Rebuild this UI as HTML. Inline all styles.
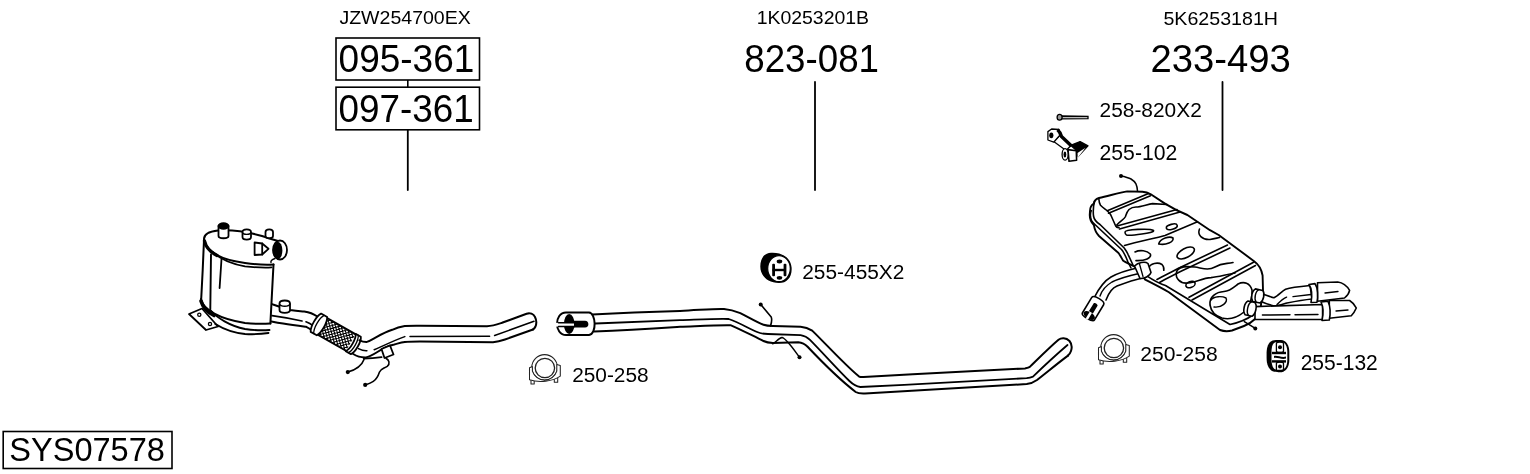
<!DOCTYPE html>
<html><head><meta charset="utf-8">
<style>
html,body{margin:0;padding:0;background:#fff;}
body{width:1530px;height:474px;overflow:hidden;position:relative;}
svg{position:absolute;left:0;top:0;will-change:transform;}
text{font-family:"Liberation Sans",sans-serif;fill:#000;}
</style></head><body>
<svg width="1530" height="474" viewBox="0 0 1530 474">
<g id="texts">
<text transform="translate(339.41 24.31) scale(1.0282 1)" font-size="19.01">JZW254700EX</text>
<text transform="translate(756.64 24.32) scale(1.0633 1)" font-size="18.31">1K0253201B</text>
<text transform="translate(1163.41 24.52) scale(1.0815 1)" font-size="18.17">5K6253181H</text>
<text transform="translate(338.62 72.01) scale(0.9548 1)" font-size="38.73">095-361</text>
<text transform="translate(338.53 121.71) scale(0.9554 1)" font-size="38.59">097-361</text>
<text transform="translate(744.23 72.21) scale(0.9518 1)" font-size="38.59">823-081</text>
<text transform="translate(1150.39 72.11) scale(0.9916 1)" font-size="38.59">233-493</text>
<text transform="translate(1099.56 116.89) scale(0.9892 1)" font-size="21.13">258-820X2</text>
<text transform="translate(1099.54 159.68) scale(0.9713 1)" font-size="21.83">255-102</text>
<text transform="translate(802.26 279.29) scale(1.0015 1)" font-size="20.85">255-455X2</text>
<text transform="translate(572.16 382.19) scale(0.9997 1)" font-size="20.85">250-258</text>
<text transform="translate(1140.34 360.99) scale(1.0200 1)" font-size="20.70">250-258</text>
<text transform="translate(1300.65 370.48) scale(0.9513 1)" font-size="22.11">255-132</text>
<text transform="translate(9.27 461.37) scale(0.9879 1)" font-size="32.96">SYS07578</text>
</g>
<g fill="none" stroke="#000" stroke-width="1.6">
<rect x="336" y="38" width="143.5" height="42"/>
<rect x="336" y="87.2" width="143.5" height="42.6"/>
<rect x="3.2" y="431.5" width="168.8" height="37"/>
<line x1="407.8" y1="80" x2="407.8" y2="87.2"/>
<line x1="407.8" y1="129.8" x2="407.8" y2="190" stroke-width="1.8" stroke-linecap="round"/>
<line x1="815" y1="82" x2="815" y2="190" stroke-width="1.8" stroke-linecap="round"/>
<line x1="1222.5" y1="82" x2="1222.5" y2="190" stroke-width="1.8" stroke-linecap="round"/>
</g>
<!--DPF-->
<g id="dpf" fill="none" stroke="#000" stroke-width="1.8" stroke-linecap="round" stroke-linejoin="round">
<defs>
<pattern id="mesh" width="3.7" height="3.7" patternUnits="userSpaceOnUse" patternTransform="rotate(45)">
<rect width="3.7" height="3.7" fill="#fff"/>
<rect width="1.15" height="3.7" fill="#000"/>
<rect width="3.7" height="1.15" fill="#000"/>
</pattern>
</defs>
<path d="M189,314 L202,308.5 L218,326.5 L206,330 Z" fill="#fff"/>
<circle cx="199.3" cy="314.7" r="1.6" stroke-width="1.3"/>
<circle cx="210" cy="324" r="1.6" stroke-width="1.3"/>
<path d="M204,239 C204,234 209,231.5 218,230.5 C232,229.5 248,232 262,236 C268,238 274,240 278,241" stroke-width="2"/>
<path d="M204,240 C207,252 222,260 245,263 C256,264.5 266,265 273.5,264.5" stroke-width="2"/>
<path d="M204.5,241 C206,248 210,252 217,255.5" stroke-width="3.4"/>
<path d="M212.5,251.8 C220,259 232,264 245,266.4 C256,267.5 265,267.8 271.5,267.4" stroke-width="1.8"/>
<path d="M204,240 L202.7,270 L201.2,299" stroke-width="2"/>
<path d="M211,254.5 L210.3,309" stroke-width="1.9"/>
<path d="M221.5,259 L219.6,288" stroke-width="1.8"/>
<path d="M273.5,264.5 L270.4,323.4" stroke-width="2"/>
<path d="M201,299 C203,310 220,319 245,323 C255,324 264,324 270.4,323.4" stroke-width="2"/>
<path d="M201,301 C203,308 207,312 214,315.5" stroke-width="3.6"/>
<path d="M210.3,310 C217,318 230,326 245,329 C255,330.5 263,330.5 269.5,330" stroke-width="1.9"/>
<path d="M215.3,324 C225,330 235,333 245,334 C255,334.5 262,334 268.5,333" stroke-width="1.9"/>
<path d="M218.5,226 L218.5,236 C218.5,239 228.5,239 228.5,236 L228.5,226" fill="#fff"/>
<ellipse cx="223.5" cy="226" rx="5" ry="2.8" fill="#000"/>
<path d="M242.5,232 L242.5,237 C242.5,240.5 251,240.5 251,237 L251,232 C251,228.5 242.5,228.5 242.5,232 Z" fill="#fff"/>
<path d="M242.5,232.5 C243,235 250.5,235 251,232.5" stroke-width="1.3"/>
<path d="M265.5,232 L265.5,236 C265.5,239 273,239 273,236 L273,232 C273,228.5 265.5,228.5 265.5,232 Z" fill="#fff"/>
<path d="M254.6,242.5 L262.2,243.5 L262.2,254.5 L254.6,255 Z"/>
<path d="M262.2,243.5 L268.5,248.8 L262.2,254.5"/>
<ellipse cx="280" cy="250" rx="7" ry="9.5" fill="#fff"/>
<ellipse cx="277.8" cy="250.5" rx="4.6" ry="8.8" fill="#000" stroke="none"/>
<path d="M275,258.5 C272,259.5 270.5,261 271,262.5" stroke-width="1.4"/>
<path d="M272,304.1 C276,305.5 280,307 290,310 C296,311 300,311.2 304.2,311.5 C309,312.3 313,313.5 316.5,316 C317.5,317 318.5,318 319,319" stroke-width="2"/>
<path d="M271.4,321.5 C276,322.5 280,323.2 283.1,323.6 C292,325 300,326 306.3,326.8 C309,328 311,329.5 312.6,331" stroke-width="2"/>
<path d="M272,315.7 C285,317.5 295,319.5 302,321 M306,321.8 C309,322.8 311,324 313.5,326" stroke-width="1.7"/>
<path d="M279.5,303.5 L279.5,310 C279.5,313.8 290,313.8 290,310 L290,303.5 C290,299.5 279.5,299.5 279.5,303.5 Z" fill="#fff"/>
<path d="M279.5,304 C280.5,307 289,307 290,304" stroke-width="1.3"/>
<g transform="translate(318.5 324.2) rotate(29.6)">
<rect x="4" y="-9.6" width="33" height="19.2" fill="#fff" stroke="none"/><path d="M4.00,8.90 L4.70,9.60 M4.00,-8.90 L4.70,-9.60 M4.00,5.00 L8.60,9.60 M4.00,-5.00 L8.60,-9.60 M4.00,1.10 L12.50,9.60 M4.00,-1.10 L12.50,-9.60 M4.00,-2.80 L16.40,9.60 M4.00,2.80 L16.40,-9.60 M4.00,-6.70 L20.30,9.60 M4.00,6.70 L20.30,-9.60 M5.00,-9.60 L24.20,9.60 M5.00,9.60 L24.20,-9.60 M8.90,-9.60 L28.10,9.60 M8.90,9.60 L28.10,-9.60 M12.80,-9.60 L32.00,9.60 M12.80,9.60 L32.00,-9.60 M16.70,-9.60 L35.90,9.60 M16.70,9.60 L35.90,-9.60 M20.60,-9.60 L37.00,6.80 M20.60,9.60 L37.00,-6.80 M24.50,-9.60 L37.00,2.90 M24.50,9.60 L37.00,-2.90 M28.40,-9.60 L37.00,-1.00 M28.40,9.60 L37.00,1.00 M32.30,-9.60 L37.00,-4.90 M32.30,9.60 L37.00,4.90 M36.20,-9.60 L37.00,-8.80 M36.20,9.60 L37.00,8.80" stroke-width="1.05" stroke-linecap="butt"/>
<path d="M4,-9.6 L37,-9.6 M4,9.6 L37,9.6"/>
<path d="M-3,-10.5 L4,-10.5 C7,-6 7,6 4,10.5 L-3,10.5 C-6,6 -6,-6 -3,-10.5 Z" fill="#fff"/>
<path d="M0.5,-10.5 C-2.5,-6 -2.5,6 0.5,10.5" stroke-width="1.3"/>
<path d="M37,-10 L43,-10 C46,-6 46,6 43,10 L37,10 C40,6 40,-6 37,-10 Z" fill="#fff"/>
<path d="M40,-10 C43,-6 43,6 40,10" stroke-width="1.3"/>
</g>
<path d="M359.5,340.3 C362,341.5 364,342 366.9,341.9 C370,341 373,339 376.4,337.1 C382,334 387,331.5 392.2,329.8 C396,328 400,326.8 404.8,326.1 C410,325.7 415,325.8 420,325.8 L487,326.2 C493,326 497,324.5 502,322.8 L526.6,313.7 C530,312.5 533.5,314 535,317 C536.5,320 536.5,324 535.5,326.5 C534.8,328 534,329 533,329.5" stroke-width="2"/>
<path d="M353.2,354 C357,356.5 361,357.5 365.8,357.4 C371,357 378,351 384.8,347.7 C388,346.2 391,345.2 394.3,344.5 C398,343.5 401,342.3 404.8,341.9 C409,341.5 414,341.4 420,341.4 L493,342.2 C497,341.8 500.5,341 505,339.5 L533,329.5" stroke-width="2"/>
<path d="M363.7,358.5 C370,358.5 376,358 381.6,357.2" stroke-width="1.8"/>
<path d="M358.4,348.7 C361,350 364,351 366.9,350.8 M374.2,349.8 C385,345 395,340 404.8,336.6 M410,336.6 L489.6,336.3 M494.6,335.5 L534,321.3" stroke-width="1.5"/>
<path d="M381.5,349 L390,345.5 L393.5,354.5 L384.5,358 Z" fill="#fff"/>
<path d="M364,359.4 C362,365 358,369 347.8,372.1" stroke-width="1.6"/>
<circle cx="347.8" cy="372.1" r="2.1" fill="#000" stroke="none"/>
<path d="M386,358.2 C389,360 390.5,363.5 387.2,366.3 C384,368.5 380.5,369 379.5,372 C378.5,375 377,379 373.3,381.4 C371,383 368,384 365.2,384.9" stroke-width="1.6"/>
<circle cx="365.2" cy="384.9" r="2.1" fill="#000" stroke="none"/>
</g>
<!--MID-->
<g id="mid" fill="none" stroke="#000" stroke-width="2" stroke-linecap="round" stroke-linejoin="round">
<path d="M592.2,314.5 C620,313 660,311.5 680,310.9 C700,310 716,308.5 724,309 C730,309.5 735,311 740.3,313.2 C748,317 756,322 763.5,324.8 C766,325.7 769,326 772.8,326 L800.6,326.7 C805,327 809,328.5 812.2,330.6 C825,343 845,365 858.8,376.3 C860,377 862,377.2 863.5,377 C920,374 990,370 1025,368.4 C1027,368 1028.5,367.8 1029.8,366.9 C1040,357 1050,347 1058.5,339.8 C1061,337.8 1066,337.5 1069.5,341 C1072,344 1072,348 1071,351 C1070.3,353 1069.3,354.5 1068,355.6"/>
<path d="M595.4,323.5 C630,322 660,321 680,320.2 C700,319.5 718,318.5 728.7,319 C738,322 748,328 756.5,331.8 C760,333.5 764,334 768,334 L800.6,335.2 C804,335.8 807,337 810,339.9 C822,352 838,370 849.4,381 C852,383.5 856,386.5 860.4,387 C920,384 990,380.5 1026.7,378.2 C1029,377.8 1031,377.3 1033,376.6 C1045,365 1057,354 1067.5,345" stroke-width="1.8"/>
<path d="M594.3,331.4 C630,330 660,328 680,326.7 C700,326 718,325 731,325.3 C742,330 753,336 763.5,341 C766,342.3 769,342.9 772.8,342.9 L798.3,342.2 C802,342.5 805,344 807.6,346.8 C822,362 840,380 855.7,392 C858,393.5 861,393.7 865,393.5 C930,390 990,386 1026.7,384 C1030,383.7 1033.5,382.5 1037,380 C1046,373 1058,363 1068,355.6"/>
<path d="M566,312.5 L589,312.5 C596,313 597,334 589,335 L566,335 C554,335 554,312.5 566,312.5 Z" fill="#fff"/>
<ellipse cx="569.2" cy="324" rx="5.3" ry="10" fill="#000" stroke="none"/>
<path d="M556,322.8 L574.5,322.8 L574.5,326.6 L556,326.6 Z" fill="#fff" stroke="none"/>
<path d="M558.5,322.8 L574.5,322.8 M558.5,326.6 L574.5,326.6" stroke-width="1.5"/>
<path d="M574,320.8 L585,320.8 C589.5,320.8 589.5,327.6 585,327.6 L574,327.6 Z" fill="#000" stroke="none"/>
<path d="M760.7,304.4 L771.2,317 C772,319 771.5,323 770.5,326" stroke-width="1.6"/>
<circle cx="760.7" cy="304.4" r="2" fill="#000" stroke="none"/>
<path d="M772.8,343.8 C776,342 779,338 782,337.6 C786,338 794,350 799.5,357.3" stroke-width="1.5"/>
<circle cx="799.5" cy="357.3" r="2" fill="#000" stroke="none"/>
</g>
<!--MUF-->
<g id="muf" fill="none" stroke="#000" stroke-width="1.6" stroke-linecap="round" stroke-linejoin="round">
<path d="M1090,211 C1090,207.5 1091.5,205 1093.8,203.5 C1094.2,200.5 1096,199 1099,198 C1110,195.5 1120,192.5 1127.2,191.4 L1142.4,191.8 C1146,192 1148.5,193 1150.8,194.3 L1165,203.6 C1172,208 1180,212 1187.4,215 L1210,230.2 L1218.7,235 L1254.1,261.2 C1258,264 1261.5,269 1262.6,275.5 L1263,290 L1260.5,308.5 C1259.5,313 1258,316 1255,319 C1252,322 1248,324.5 1244,326 L1232,330.5 C1228,331.5 1224,331.5 1220,330 L1168.9,292.2 C1160,287 1150,282 1145.2,279.6 L1137,268 C1132,265 1126,263 1123,260.6 C1121,257 1120,255 1118.5,253 L1099,236 C1096,233 1094.5,229 1093.9,225.2 C1091,222 1089.5,218 1089.8,214 Z" fill="#fff" stroke-width="1.9"/>
<path d="M1091.3,210.6 C1090,213 1090.2,218 1091.5,220.5 C1092.5,222.5 1094,223.8 1096,225.5 L1121.5,249.5 C1124,252 1126,257 1128,262 L1131,268 M1146,275.3 C1153,280 1159,283.5 1165.5,285.5 L1230,324.5 C1237,323 1246,320 1253,315"/>
<path d="M1094.6,201 C1093.5,205 1093,211 1093.5,216 C1094,219 1096,222 1100,224.5 L1124.2,248 C1126,250.5 1127,252 1128,254.3 L1133,265"/>
<path d="M1098.8,198.5 C1099,201.5 1099.3,203.5 1100.5,205.3 C1103,208 1106,209.5 1107.5,211 C1109,212.5 1110,213.5 1110.8,215 L1115.7,226 C1116.5,227.3 1117.5,227.8 1119,227.5"/>
<path d="M1107.3,210.7 L1148.5,193.5 M1108.5,213.2 L1150.5,195.8"/>
<path d="M1117,226 L1177,209.5 M1119.5,229 L1180,212"/>
<path d="M1124.5,245.5 C1140,241 1155,238.5 1165,235.5 L1197.5,221.8"/>
<path d="M1157,279.5 C1165,275 1170,273 1178,268.5 L1227.5,245 M1159.5,282.5 C1167,278 1172,276 1180,271.8 L1230,248"/>
<path d="M1189,297.3 L1254,262 M1192,300 L1255.5,265.5"/>
<path d="M1116.8,225 C1120,221 1124,219.5 1125.5,216.5 C1126.5,213.5 1127,211.5 1129,209.5 C1131,207.8 1133,207 1136,207 C1141,207 1148,204 1152.5,203.6 L1167,204.5"/>
<path d="M1125,232 C1125,229.5 1150,228 1153.5,230.5 C1155,233 1130,236 1126.5,235 C1125.5,234.5 1125,233.5 1125,232 Z"/>
<ellipse cx="1171.8" cy="226.8" rx="5.6" ry="2.5" transform="rotate(-15 1171.8 226.8)"/>
<path d="M1158.7,244 C1160,238 1170,236 1173,238 C1174,242 1166,245.5 1158.7,244 Z"/>
<ellipse cx="1185.7" cy="253" rx="9.5" ry="4.6" transform="rotate(-28 1185.7 253)"/>
<path d="M1199.5,229 C1197,235 1202,240 1210,239.5 C1214,239 1217,238 1219.5,237.5"/>
<path d="M1135,252 C1140,249.5 1147,250.5 1150.3,254 C1152,258 1145,261 1136,260.6"/>
<path d="M1148.6,268.5 C1150,263 1158,262 1162,264.5 C1164,266.5 1164,269 1163.8,270.3"/>
<path d="M1233,262.5 C1226,264 1222,263 1215,267 C1208,271 1202,268 1195,267 C1186,266 1178,266 1176.5,272 C1175,278 1180,284 1188,283 C1196,282.5 1202,278 1211,277.6 C1218,277 1226,274.5 1235,273"/>
<ellipse cx="1190.5" cy="284.5" rx="4.8" ry="3" transform="rotate(-20 1190.5 284.5)"/>
<path d="M1210,305 C1209,297 1216,292 1224,291.5 C1230,291 1234,287 1238,284 C1244,281 1250,283 1252,290 C1253,298 1249,306 1244,312 C1238,317 1230,320 1222,318 C1215,316 1211,311 1210,305 Z"/>
<path d="M1211,300 C1214,296 1222,296 1226,298 C1228,302 1222,308 1214,307" stroke-width="1.4"/>
<path d="M1137.5,191 C1137,185 1136,182 1131,179 C1127,177.5 1124,176 1121,175.9" stroke-width="1.5"/>
<circle cx="1121" cy="175.9" r="2" fill="#000" stroke="none"/>
<path d="M1244.3,321.6 L1255.3,328.4" stroke-width="1.5"/>
<circle cx="1255.3" cy="328.4" r="2" fill="#000" stroke="none"/>
<!-- inlet pipe -->
<path d="M1137,268 C1128,270 1118,273 1111,277 C1104,281 1099,288 1094,298 L1106,300 C1109,292 1112,288 1117,286 C1125,283 1133,280 1141.4,278.2 Z" fill="#fff" stroke="none"/>
<path d="M1137,268 C1128,270 1118,273 1111,277 C1104,281 1099,288 1094,298"/>
<path d="M1106,300 C1109,292 1112,288 1117,286 C1125,283 1133,280 1141.4,278.2"/>
<path d="M1139,273.5 C1128,276 1118,279 1112,282 C1106,285.5 1102,290 1100,296" stroke-width="1.4"/>
<path d="M1134.5,266 C1138,262.5 1145,261 1148,263.5 L1151,272.5 C1150,276 1144,279 1140,278.5 Z" fill="#fff"/>
<path d="M1139.5,264 L1143,276.5" stroke-width="1.3"/>
<g transform="translate(1093.5 308) rotate(-59)">
<path d="M-10,-7 L8,-7 C12,-7 12,7 8,7 L-10,7 C-13,7 -13,-7 -10,-7 Z" fill="#fff"/>
<ellipse cx="-8.6" cy="0.2" rx="3.5" ry="6.3" fill="#000" stroke="none"/>
<path d="M-13,-1.3 L-4,-1.3 L-4,1.3 L-13,1.3 Z" fill="#fff" stroke="none"/>
<path d="M-5,-2.3 L4,-2.3 C5.5,-2.3 5.5,2.3 4,2.3 L-5,2.3 Z" fill="#000" stroke="none"/>
</g>
<!-- tailpipes -->
<path d="M1261.3,293.5 C1266,295 1270,297 1274,297.7 C1278,296 1282,291 1285.6,289.2 C1290,287.8 1300,286.5 1310,285.5 L1312,299 C1302,300 1292,302 1287,303 C1282,304.5 1278,306 1274.5,306 C1270,305 1264,303 1259.2,300.8 Z" fill="#fff"/>
<path d="M1277,304.5 C1280,301.5 1283,298.5 1286.6,297.1 M1293,296.6 L1311,294.5" stroke-width="1.4"/>
<path d="M1317.5,282.8 L1337.8,282 C1342,282.5 1347,286 1349.6,290.4 C1349,293.5 1347,296 1344.5,298 L1317.5,301.3 Z" fill="#fff"/>
<path d="M1325,293 L1338,291.5" stroke-width="1.3"/>
<path d="M1309,284.5 L1315,283.6 C1318,288 1318,297 1317,302.2 L1311,302.5 C1312,297 1312,289 1309,284.5 Z" fill="#fff"/>
<path d="M1255,306.6 L1322.6,304.5 L1322.6,319.5 L1255,319.5 Z" fill="#fff"/>
<path d="M1262.4,315 L1290,314.8 M1295,314.7 L1318,314.5" stroke-width="1.4"/>
<path d="M1329.3,300.5 L1349.6,300.5 C1352,302 1355,305 1356.3,308 C1355,311 1353.5,313.5 1351.3,315.7 L1329.3,318.2 Z" fill="#fff"/>
<path d="M1336,311 L1348,310" stroke-width="1.3"/>
<path d="M1321,302 L1328,301.3 C1330.5,307 1330.5,314 1329.3,320 L1322,320.5 C1323.5,314 1323.5,307 1321,302 Z" fill="#fff"/>
<g transform="rotate(12 1259 296)">
<path d="M1254,289.8 L1261.5,289.8 C1264.5,292 1264.5,300 1261.5,302.6 L1254,302.6 C1251,300 1251,292 1254,289.8 Z" fill="#fff"/>
<path d="M1257.5,289.8 C1254.5,292 1254.5,300 1257.5,302.6" stroke-width="1.4"/>
</g>
<g transform="rotate(12 1250 308.6)">
<path d="M1246.5,301.6 L1253.5,301.6 C1256.8,304 1256.8,313 1253.5,315.6 L1246.5,315.6 C1243.2,313 1243.2,304 1246.5,301.6 Z" fill="#fff"/>
<path d="M1250,301.6 C1246.8,304 1246.8,313 1250,315.6" stroke-width="1.4"/>
</g>
</g>
<!--ICONS-->
<g id="icons">
<g fill="#000" stroke="none">
<path d="M771,252.7 C782,252 791,258 791.6,267.5 C792.3,277 787,283 779,283 C768,283 760.3,276 760.3,266.5 C760.3,258 764.5,253 771,252.7 Z"/>
<ellipse cx="779" cy="268.6" rx="11.3" ry="13" fill="#fff"/>
<ellipse cx="779" cy="268.6" rx="11.3" ry="13" fill="none" stroke="#000" stroke-width="1.2"/>
<rect x="772.2" y="263.8" width="2.8" height="12.5" rx="1"/>
<rect x="783.6" y="263.8" width="2.8" height="12.5" rx="1"/>
<rect x="772.5" y="268.8" width="13.5" height="2.4"/>
<ellipse cx="779.5" cy="261.5" rx="2.8" ry="1.9"/>
<ellipse cx="779.5" cy="277.8" rx="2.8" ry="1.9"/>
</g>
<g transform="translate(529 354)" fill="none" stroke="#222" stroke-width="1.05" stroke-linejoin="round">
<path d="M2,25 L5.2,25 L5.2,30 L2,30 Z M25.3,23.5 L28.7,23.5 L28.7,28.2 L25.3,28.2 Z" fill="#fff"/>
<circle cx="15.6" cy="13.4" r="12.8" fill="#fff"/>
<path d="M0.5,13.8 L3.4,12.6 L3.4,17.2 A12.8,12.8 0 0 0 27.8,17.2 L27.8,10.6 L31.3,11.4 L31.3,22.2 C24,27.5 10,29 0.5,25.8 Z" fill="#fff"/>
<circle cx="15.9" cy="14" r="9.7" fill="#fff" stroke-width="1.3"/>
</g><g transform="translate(1098 334)" fill="none" stroke="#222" stroke-width="1.05" stroke-linejoin="round">
<path d="M2,25 L5.2,25 L5.2,30 L2,30 Z M25.3,23.5 L28.7,23.5 L28.7,28.2 L25.3,28.2 Z" fill="#fff"/>
<circle cx="15.6" cy="13.4" r="12.8" fill="#fff"/>
<path d="M0.5,13.8 L3.4,12.6 L3.4,17.2 A12.8,12.8 0 0 0 27.8,17.2 L27.8,10.6 L31.3,11.4 L31.3,22.2 C24,27.5 10,29 0.5,25.8 Z" fill="#fff"/>
<circle cx="15.9" cy="14" r="9.7" fill="#fff" stroke-width="1.3"/>
</g>
<g fill="#000" stroke="none">
<path d="M1276,339.9 L1281,339.9 C1286,340 1289.3,345 1289.3,352 L1289.3,360 C1289.3,367 1286,371.8 1281,371.8 L1276,371.8 C1270,371.8 1266.6,366 1266.6,358 L1266.6,353 C1266.6,345 1270,339.9 1276,339.9 Z"/>
<path d="M1277,342 L1281,342 C1285,342 1287.3,346 1287.3,352 L1287.3,360 C1287.3,366 1285,369.8 1281,369.8 L1277,369.8 C1273,369.8 1271.5,365 1271.5,359 L1271.5,352 C1271.5,346 1273,342 1277,342 Z" fill="#fff"/>
<path d="M1276.4,343.5 C1276.4,341.5 1283.5,341.5 1283.5,343.5 L1283.5,351 C1283.5,353 1276.4,353 1276.4,351 Z" fill="none" stroke="#000" stroke-width="1.3"/>
<path d="M1276.4,363.5 C1276.4,361.5 1283.5,361.5 1283.5,363.5 L1283.5,370.5 C1283.5,372 1276.4,372 1276.4,370.5 Z" fill="none" stroke="#000" stroke-width="1.3"/>
<circle cx="1280" cy="347.3" r="2"/>
<circle cx="1280" cy="366.6" r="2"/>
<rect x="1272" y="351.8" width="14" height="2.4"/>
<rect x="1272" y="360.2" width="14" height="2.4"/>
<path d="M1274,356 C1277,355 1282,358 1286,356.5 L1286,358.5 C1282,360 1277,357 1274,358 Z"/>
</g>
<g stroke="#000" fill="#fff" stroke-width="1.2">
<path d="M1061.5,116 L1088,116.3 L1088,118.6 L1061.5,118.8 Z" fill="#bbb" stroke-width="1.3"/>
<ellipse cx="1059.6" cy="117.3" rx="2.5" ry="2.9" fill="#999" stroke-width="1.3"/>
</g>
<g stroke="#000" fill="#fff" stroke-width="1.3" stroke-linejoin="round">
<path d="M1053.7,141.5 L1060,135 L1071,145.5 L1066,150.5 Z"/>
<path d="M1047.9,131.6 L1051.6,129 L1059,129.5 L1060.5,134.5 L1053.7,142.2 L1047.9,140 Z"/>
<ellipse cx="1051.3" cy="135.3" rx="2.1" ry="2.9" fill="#000" stroke="none"/>
<path d="M1057.5,129.8 C1059.5,131.5 1060.8,134 1061.5,136.5 L1071.5,146" stroke-width="3.4" fill="none"/>
<path d="M1070.6,145.3 L1080.1,141.6 L1088,145.9 L1078,156.5 L1076.5,150.5 Z" fill="#000"/>
<path d="M1077.5,153 L1085.5,147.8 L1077.5,158 Z" fill="#fff" stroke="none"/>
<path d="M1068,149.6 L1076.3,150.8 L1076.6,160.2 L1069,161.3 Z" stroke-width="1.6"/>
<ellipse cx="1065.1" cy="154.4" rx="3" ry="5.8"/>
<ellipse cx="1064.9" cy="154.6" rx="1.4" ry="3" fill="#000" stroke="none"/>
</g>
</g>
</svg>
</body></html>
